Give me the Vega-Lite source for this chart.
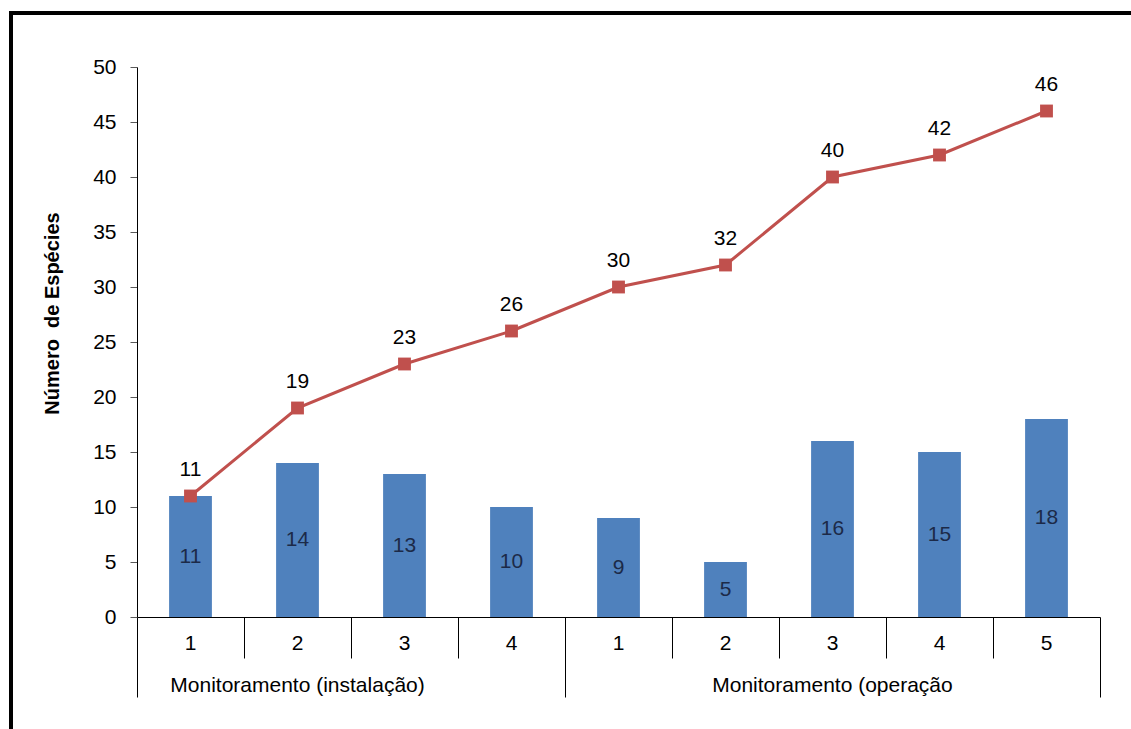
{
  "$schema": "https://vega.github.io/schema/vega-lite/v6.json",
  "width": 1120,
  "height": 716,
  "autosize": {"type": "none"},
  "padding": {"left": 11, "top": 13, "right": 0, "bottom": 0},
  "background": "white",
  "config": {
    "view": {"stroke": "black", "strokeWidth": 4, "strokeDash": [1120, 1836, 716], "fill": null},
    "font": "Liberation Sans",
    "text": {"font": "Liberation Sans", "fontSize": 21}
  },
  "data": {
    "values": [
      {"slot": "I1", "especies": 11, "acumulado": 11},
      {"slot": "I2", "especies": 14, "acumulado": 19},
      {"slot": "I3", "especies": 13, "acumulado": 23},
      {"slot": "I4", "especies": 10, "acumulado": 26},
      {"slot": "O1", "especies": 9, "acumulado": 30},
      {"slot": "O2", "especies": 5, "acumulado": 32},
      {"slot": "O3", "especies": 16, "acumulado": 40},
      {"slot": "O4", "especies": 15, "acumulado": 42},
      {"slot": "O5", "especies": 18, "acumulado": 46}
    ]
  },
  "layer": [
    {
      "mark": {"type": "bar", "color": "#4F81BD", "width": {"band": 0.4}},
      "encoding": {
        "x": {
          "field": "slot", "type": "nominal", "sort": null,
          "scale": {"type": "band", "domain": ["I1","I2","I3","I4","O1","O2","O3","O4","O5"], "range": [126, 1089], "paddingInner": 0, "paddingOuter": 0},
          "axis": {
            "orient": "bottom", "offset": -112, "title": null, "ticks": false,
            "domain": true, "domainColor": "black", "domainWidth": 1,
            "labelExpr": "substring(datum.value, 1)", "labelFont": "Liberation Sans", "labelFontSize": 21,
            "labelColor": "black", "labelPadding": 15, "labelAngle": 0, "labelOverlap": false, "grid": false
          }
        },
        "y": {
          "field": "especies", "type": "quantitative",
          "scale": {"domain": [0, 50], "range": [604, 54], "nice": false, "zero": true},
          "axis": {
            "orient": "left", "offset": -126, "values": [0,5,10,15,20,25,30,35,40,45,50],
            "grid": false, "tickSize": 7, "tickColor": "#595959", "domainColor": "black", "domainWidth": 1,
            "labelFont": "Liberation Sans", "labelFontSize": 21, "labelColor": "black", "labelPadding": 14,
            "title": "Número\u00a0 de Espécies", "titleFont": "Liberation Sans", "titleFontSize": 20, "titleFontWeight": "bold",
            "titleColor": "black", "titlePadding": 30, "titleY": 300
          }
        }
      }
    },
    {
      "mark": {"type": "text", "color": "#1c2a48", "fontSize": 21, "baseline": "middle"},
      "encoding": {
        "x": {
          "field": "slot", "type": "nominal", "sort": null,
          "axis": {
            "orient": "bottom", "offset": -112, "title": null, "bandPosition": 0,
            "labels": false, "domain": false, "ticks": true, "tickColor": "black", "tickWidth": 1,
            "tickSize": {"condition": {"test": "datum.value === 'I1' || datum.value === 'O1'", "value": 80}, "value": 41},
            "grid": false
          }
        },
        "y": {"field": "especies", "type": "quantitative", "scale": {"domain": [0, 100], "range": [604, 54], "nice": false, "zero": true}, "axis": null},
        "text": {"field": "especies", "type": "quantitative"}
      }
    },
    {
      "mark": {"type": "line", "color": "#C0504D", "strokeWidth": 3},
      "encoding": {
        "x": {
          "field": "slot", "type": "nominal", "sort": null,
          "axis": {
            "orient": "bottom", "offset": -112, "title": null, "bandPosition": 1,
            "values": ["I2", "O5"], "domain": false, "ticks": true, "tickSize": 80, "tickColor": "black", "tickWidth": 1,
            "tickOpacity": {"condition": {"test": "datum.value === 'I2'", "value": 0}, "value": 1},
            "labelExpr": "datum.value === 'I2' ? 'Monitoramento (instalação)' : ''",
            "labelFont": "Liberation Sans", "labelFontSize": 21, "labelColor": "black", "labelPadding": -23,
            "labelAngle": 0, "labelLimit": 0, "labelOverlap": false, "grid": false
          }
        },
        "y": {"field": "acumulado", "type": "quantitative", "scale": {"domain": [0, 50], "range": [604, 54], "nice": false, "zero": true}, "axis": null}
      }
    },
    {
      "mark": {"type": "point", "shape": "square", "filled": true, "color": "#C0504D", "size": 165, "opacity": 1},
      "encoding": {
        "x": {"field": "slot", "type": "nominal", "sort": null, "axis": null},
        "y": {"field": "acumulado", "type": "quantitative", "scale": {"domain": [0, 50], "range": [604, 54], "nice": false, "zero": true}, "axis": null}
      }
    },
    {
      "mark": {"type": "text", "color": "black", "fontSize": 21, "baseline": "middle", "dy": -26},
      "encoding": {
        "x": {
          "field": "slot", "type": "nominal", "sort": null,
          "axis": {
            "orient": "bottom", "offset": -112, "title": null, "bandPosition": 0.5,
            "values": ["O3"], "domain": false, "ticks": false,
            "labelExpr": "'Monitoramento (operação'",
            "labelFont": "Liberation Sans", "labelFontSize": 21, "labelColor": "black", "labelPadding": 57,
            "labelAngle": 0, "labelLimit": 0, "labelOverlap": false, "grid": false
          }
        },
        "y": {"field": "acumulado", "type": "quantitative", "scale": {"domain": [0, 50], "range": [604, 54], "nice": false, "zero": true}, "axis": null},
        "text": {"field": "acumulado", "type": "quantitative"}
      }
    }
  ],
  "resolve": {"scale": {"y": "independent"}, "axis": {"x": "independent", "y": "independent"}}
}
